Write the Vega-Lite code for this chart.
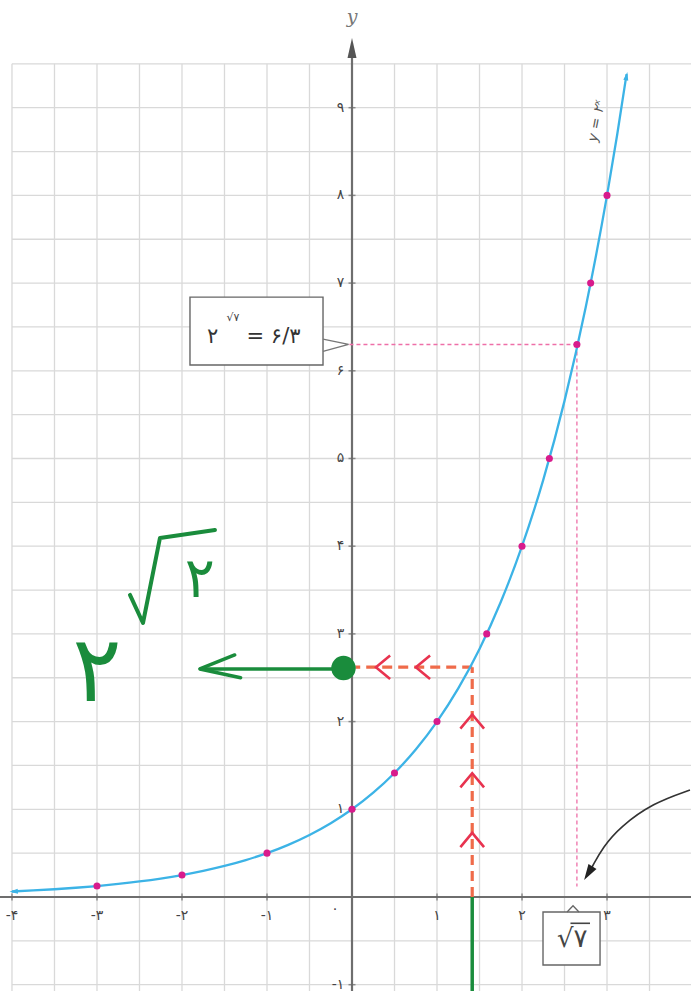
{
  "$schema": "https://vega.github.io/schema/vega-lite/v6.json",
  "width": 691,
  "height": 991,
  "padding": 0,
  "autosize": {"type": "none"},
  "background": "white",
  "config": {"view": {"stroke": null}, "text": {"font": "DejaVu Sans"}},
  "datasets": {
    "gridV": [
      {"gx": -4}, {"gx": -3.5}, {"gx": -3}, {"gx": -2.5}, {"gx": -2}, {"gx": -1.5}, {"gx": -1}, {"gx": -0.5},
      {"gx": 0.5}, {"gx": 1}, {"gx": 1.5}, {"gx": 2}, {"gx": 2.5}, {"gx": 3}, {"gx": 3.5}
    ],
    "gridH": [
      {"gy": -1}, {"gy": -0.5}, {"gy": 0.5}, {"gy": 1}, {"gy": 1.5}, {"gy": 2}, {"gy": 2.5}, {"gy": 3},
      {"gy": 3.5}, {"gy": 4}, {"gy": 4.5}, {"gy": 5}, {"gy": 5.5}, {"gy": 6}, {"gy": 6.5}, {"gy": 7},
      {"gy": 7.5}, {"gy": 8}, {"gy": 8.5}, {"gy": 9}, {"gy": 9.5}
    ],
    "xTicks": [{"v": -4}, {"v": -3}, {"v": -2}, {"v": -1}, {"v": 1}, {"v": 2}, {"v": 3}],
    "yTicks": [{"v": -1}, {"v": 1}, {"v": 2}, {"v": 3}, {"v": 4}, {"v": 5}, {"v": 6}, {"v": 7}, {"v": 8}, {"v": 9}],
    "xLabels": [
      {"lx": -4, "ly": -0.22, "t": "-۴"},
      {"lx": -3, "ly": -0.22, "t": "-۳"},
      {"lx": -2, "ly": -0.22, "t": "-۲"},
      {"lx": -1, "ly": -0.22, "t": "-۱"},
      {"lx": -0.2, "ly": -0.14, "t": "۰"},
      {"lx": 1, "ly": -0.22, "t": "۱"},
      {"lx": 2, "ly": -0.22, "t": "۲"},
      {"lx": 3, "ly": -0.22, "t": "۳"}
    ],
    "yLabels": [
      {"lx": -0.09, "ly": -1, "t": "-۱"},
      {"lx": -0.09, "ly": 1, "t": "۱"},
      {"lx": -0.09, "ly": 2, "t": "۲"},
      {"lx": -0.09, "ly": 3, "t": "۳"},
      {"lx": -0.09, "ly": 4, "t": "۴"},
      {"lx": -0.09, "ly": 5, "t": "۵"},
      {"lx": -0.09, "ly": 6, "t": "۶"},
      {"lx": -0.09, "ly": 7, "t": "۷"},
      {"lx": -0.09, "ly": 8, "t": "۸"},
      {"lx": -0.09, "ly": 9, "t": "۹"}
    ],
    "curve": [
      {"cx": -4, "cy": 0.0625}, {"cx": -3.75, "cy": 0.0743}, {"cx": -3.5, "cy": 0.0884}, {"cx": -3.25, "cy": 0.1051},
      {"cx": -3, "cy": 0.125}, {"cx": -2.75, "cy": 0.1487}, {"cx": -2.5, "cy": 0.1768}, {"cx": -2.25, "cy": 0.2102},
      {"cx": -2, "cy": 0.25}, {"cx": -1.75, "cy": 0.2973}, {"cx": -1.5, "cy": 0.3536}, {"cx": -1.25, "cy": 0.4204},
      {"cx": -1, "cy": 0.5}, {"cx": -0.75, "cy": 0.5946}, {"cx": -0.5, "cy": 0.7071}, {"cx": -0.25, "cy": 0.8409},
      {"cx": 0, "cy": 1}, {"cx": 0.25, "cy": 1.1892}, {"cx": 0.5, "cy": 1.4142}, {"cx": 0.75, "cy": 1.6818},
      {"cx": 1, "cy": 2}, {"cx": 1.25, "cy": 2.3784}, {"cx": 1.5, "cy": 2.8284}, {"cx": 1.75, "cy": 3.3636},
      {"cx": 2, "cy": 4}, {"cx": 2.25, "cy": 4.7568}, {"cx": 2.5, "cy": 5.6569}, {"cx": 2.75, "cy": 6.7272},
      {"cx": 3, "cy": 8}, {"cx": 3.12, "cy": 8.6939}, {"cx": 3.23, "cy": 9.3828}
    ],
    "dots": [
      {"px": -3, "py": 0.125}, {"px": -2, "py": 0.25}, {"px": -1, "py": 0.5}, {"px": 0, "py": 1},
      {"px": 0.5, "py": 1.4142}, {"px": 1, "py": 2}, {"px": 1.585, "py": 3}, {"px": 2, "py": 4},
      {"px": 2.3219, "py": 5}, {"px": 2.6458, "py": 6.3}, {"px": 2.8074, "py": 7}, {"px": 3, "py": 8}
    ],
    "pinkGuides": [
      {"x1": -0.03, "x2": 2.6458, "y1": 6.3, "y2": 6.3},
      {"x1": 2.6458, "x2": 2.6458, "y1": 6.3, "y2": 0.12}
    ],
    "orangeGuides": [
      {"x1": 1.4142, "x2": 1.4142, "y1": 0, "y2": 2.62},
      {"x1": 1.4142, "x2": 0.04, "y1": 2.62, "y2": 2.62}
    ],
    "upChevrons": [{"cx": 1.4142, "cy": 2.0}, {"cx": 1.4142, "cy": 1.33}, {"cx": 1.4142, "cy": 0.65}],
    "leftChevrons": [{"cx": 0.365, "cy": 2.62}, {"cx": 0.835, "cy": 2.62}],
    "greenHead": [
      {"ax": -1.38, "ay": 2.76, "o": 1},
      {"ax": -1.79, "ay": 2.6, "o": 2},
      {"ax": -1.31, "ay": 2.5, "o": 3}
    ],
    "radical": [
      {"rx": -2.612, "ry": 3.444, "o": 1},
      {"rx": -2.459, "ry": 3.124, "o": 2},
      {"rx": -2.259, "ry": 4.094, "o": 3},
      {"rx": -1.612, "ry": 4.185, "o": 4}
    ],
    "bentArrow": [
      {"bx": 3.976, "by": 1.22, "o": 1},
      {"bx": 3.541, "by": 1.072, "o": 2},
      {"bx": 3.153, "by": 0.798, "o": 3},
      {"bx": 2.953, "by": 0.57, "o": 4},
      {"bx": 2.824, "by": 0.342, "o": 5}
    ],
    "calloutTail": [
      {"tx": -0.341, "ty": 6.36, "o": 1},
      {"tx": -0.04, "ty": 6.3, "o": 2},
      {"tx": -0.341, "ty": 6.22, "o": 3}
    ],
    "rootNotch": [
      {"nx": 2.53, "ny": -0.171, "o": 1},
      {"nx": 2.6, "ny": -0.1, "o": 2},
      {"nx": 2.67, "ny": -0.171, "o": 3}
    ]
  },
  "layer": [
    {
      "data": {"name": "gridV"},
      "mark": {"type": "rule", "color": "#d9d9d9", "strokeWidth": 1.3},
      "encoding": {
        "x": {"field": "gx", "type": "quantitative", "scale": {"domain": [-4.141, 3.988], "nice": false, "zero": false}, "axis": null},
        "y": {"datum": 9.5, "type": "quantitative", "scale": {"domain": [-1.072, 10.228], "nice": false, "zero": false}, "axis": null},
        "y2": {"datum": -1.2}
      }
    },
    {
      "data": {"name": "gridH"},
      "mark": {"type": "rule", "color": "#d9d9d9", "strokeWidth": 1.3},
      "encoding": {
        "y": {"field": "gy", "type": "quantitative", "scale": {"domain": [-1.072, 10.228], "nice": false, "zero": false}, "axis": null},
        "x": {"datum": -4, "type": "quantitative", "scale": {"domain": [-4.141, 3.988], "nice": false, "zero": false}, "axis": null},
        "x2": {"datum": 4.2}
      }
    },
    {
      "data": {"values": [{}]},
      "mark": {"type": "rule", "color": "#6e6e6e", "strokeWidth": 2.2},
      "encoding": {
        "x": {"datum": -4.2, "type": "quantitative", "scale": {"domain": [-4.141, 3.988], "nice": false, "zero": false}, "axis": null},
        "x2": {"datum": 4.2},
        "y": {"datum": 0, "type": "quantitative", "scale": {"domain": [-1.072, 10.228], "nice": false, "zero": false}, "axis": null}
      }
    },
    {
      "data": {"values": [{}]},
      "mark": {"type": "rule", "color": "#6e6e6e", "strokeWidth": 2.2},
      "encoding": {
        "x": {"datum": 0, "type": "quantitative", "scale": {"domain": [-4.141, 3.988], "nice": false, "zero": false}, "axis": null},
        "y": {"datum": -1.2, "type": "quantitative", "scale": {"domain": [-1.072, 10.228], "nice": false, "zero": false}, "axis": null},
        "y2": {"datum": 9.7}
      }
    },
    {
      "data": {"values": [{}]},
      "mark": {"type": "point", "shape": "M0,-1L0.45,1L-0.45,1Z", "filled": true, "color": "#555555", "size": 400, "opacity": 1},
      "encoding": {
        "x": {"datum": 0, "type": "quantitative", "scale": {"domain": [-4.141, 3.988], "nice": false, "zero": false}, "axis": null},
        "y": {"datum": 9.68, "type": "quantitative", "scale": {"domain": [-1.072, 10.228], "nice": false, "zero": false}, "axis": null}
      }
    },
    {
      "data": {"values": [{"t": "y"}]},
      "mark": {"type": "text", "font": "DejaVu Serif", "fontStyle": "italic", "fontSize": 19, "color": "#777777", "align": "center", "baseline": "middle"},
      "encoding": {
        "x": {"datum": 0, "type": "quantitative", "scale": {"domain": [-4.141, 3.988], "nice": false, "zero": false}, "axis": null},
        "y": {"datum": 10.03, "type": "quantitative", "scale": {"domain": [-1.072, 10.228], "nice": false, "zero": false}, "axis": null},
        "text": {"field": "t"}
      }
    },
    {
      "data": {"name": "xTicks"},
      "mark": {"type": "tick", "orient": "vertical", "color": "#666666", "size": 7, "thickness": 1.5},
      "encoding": {
        "x": {"field": "v", "type": "quantitative", "scale": {"domain": [-4.141, 3.988], "nice": false, "zero": false}, "axis": null},
        "y": {"datum": 0, "type": "quantitative", "scale": {"domain": [-1.072, 10.228], "nice": false, "zero": false}, "axis": null}
      }
    },
    {
      "data": {"name": "yTicks"},
      "mark": {"type": "tick", "orient": "horizontal", "color": "#666666", "size": 7, "thickness": 1.5},
      "encoding": {
        "y": {"field": "v", "type": "quantitative", "scale": {"domain": [-1.072, 10.228], "nice": false, "zero": false}, "axis": null},
        "x": {"datum": 0, "type": "quantitative", "scale": {"domain": [-4.141, 3.988], "nice": false, "zero": false}, "axis": null}
      }
    },
    {
      "data": {"name": "xLabels"},
      "mark": {"type": "text", "fontSize": 14, "color": "#444444", "align": "center", "baseline": "middle"},
      "encoding": {
        "x": {"field": "lx", "type": "quantitative", "scale": {"domain": [-4.141, 3.988], "nice": false, "zero": false}, "axis": null},
        "y": {"field": "ly", "type": "quantitative", "scale": {"domain": [-1.072, 10.228], "nice": false, "zero": false}, "axis": null},
        "text": {"field": "t"}
      }
    },
    {
      "data": {"name": "yLabels"},
      "mark": {"type": "text", "fontSize": 14, "color": "#444444", "align": "right", "baseline": "middle"},
      "encoding": {
        "x": {"field": "lx", "type": "quantitative", "scale": {"domain": [-4.141, 3.988], "nice": false, "zero": false}, "axis": null},
        "y": {"field": "ly", "type": "quantitative", "scale": {"domain": [-1.072, 10.228], "nice": false, "zero": false}, "axis": null},
        "text": {"field": "t"}
      }
    },
    {
      "data": {"name": "pinkGuides"},
      "mark": {"type": "rule", "color": "#ee6fa8", "strokeWidth": 1.3, "strokeDash": [4, 3]},
      "encoding": {
        "x": {"field": "x1", "type": "quantitative", "scale": {"domain": [-4.141, 3.988], "nice": false, "zero": false}, "axis": null},
        "x2": {"field": "x2"},
        "y": {"field": "y1", "type": "quantitative", "scale": {"domain": [-1.072, 10.228], "nice": false, "zero": false}, "axis": null},
        "y2": {"field": "y2"}
      }
    },
    {
      "data": {"values": [{}]},
      "mark": {"type": "rule", "color": "#1a8c3c", "strokeWidth": 3.5},
      "encoding": {
        "x": {"datum": 1.4142, "type": "quantitative", "scale": {"domain": [-4.141, 3.988], "nice": false, "zero": false}, "axis": null},
        "y": {"datum": 0, "type": "quantitative", "scale": {"domain": [-1.072, 10.228], "nice": false, "zero": false}, "axis": null},
        "y2": {"datum": -1.2}
      }
    },
    {
      "data": {"name": "orangeGuides"},
      "mark": {"type": "rule", "color": "#ef6b4a", "strokeWidth": 3.2, "strokeDash": [10, 6]},
      "encoding": {
        "x": {"field": "x1", "type": "quantitative", "scale": {"domain": [-4.141, 3.988], "nice": false, "zero": false}, "axis": null},
        "x2": {"field": "x2"},
        "y": {"field": "y1", "type": "quantitative", "scale": {"domain": [-1.072, 10.228], "nice": false, "zero": false}, "axis": null},
        "y2": {"field": "y2"}
      }
    },
    {
      "data": {"name": "curve"},
      "mark": {"type": "line", "color": "#3cb3e6", "strokeWidth": 2.3, "interpolate": "monotone"},
      "encoding": {
        "x": {"field": "cx", "type": "quantitative", "scale": {"domain": [-4.141, 3.988], "nice": false, "zero": false}, "axis": null},
        "y": {"field": "cy", "type": "quantitative", "scale": {"domain": [-1.072, 10.228], "nice": false, "zero": false}, "axis": null}
      }
    },
    {
      "data": {"values": [{}]},
      "mark": {"type": "point", "shape": "M0,-1L0.6,1L-0.6,1Z", "filled": true, "color": "#3cb3e6", "size": 70, "opacity": 1, "angle": 11},
      "encoding": {
        "x": {"datum": 3.23, "type": "quantitative", "scale": {"domain": [-4.141, 3.988], "nice": false, "zero": false}, "axis": null},
        "y": {"datum": 9.36, "type": "quantitative", "scale": {"domain": [-1.072, 10.228], "nice": false, "zero": false}, "axis": null}
      }
    },
    {
      "data": {"values": [{}]},
      "mark": {"type": "point", "shape": "M-1,0L1,-0.6L1,0.6Z", "filled": true, "color": "#3cb3e6", "size": 70, "opacity": 1, "angle": -4},
      "encoding": {
        "x": {"datum": -3.98, "type": "quantitative", "scale": {"domain": [-4.141, 3.988], "nice": false, "zero": false}, "axis": null},
        "y": {"datum": 0.0625, "type": "quantitative", "scale": {"domain": [-1.072, 10.228], "nice": false, "zero": false}, "axis": null}
      }
    },
    {
      "data": {"name": "dots"},
      "mark": {"type": "point", "shape": "circle", "filled": true, "color": "#d81b8c", "size": 50, "opacity": 1},
      "encoding": {
        "x": {"field": "px", "type": "quantitative", "scale": {"domain": [-4.141, 3.988], "nice": false, "zero": false}, "axis": null},
        "y": {"field": "py", "type": "quantitative", "scale": {"domain": [-1.072, 10.228], "nice": false, "zero": false}, "axis": null}
      }
    },
    {
      "data": {"name": "upChevrons"},
      "mark": {"type": "point", "shape": "M-1,0.6L0,-0.6L1,0.6", "filled": false, "color": "#e8334f", "strokeWidth": 2.6, "size": 560, "opacity": 1},
      "encoding": {
        "x": {"field": "cx", "type": "quantitative", "scale": {"domain": [-4.141, 3.988], "nice": false, "zero": false}, "axis": null},
        "y": {"field": "cy", "type": "quantitative", "scale": {"domain": [-1.072, 10.228], "nice": false, "zero": false}, "axis": null}
      }
    },
    {
      "data": {"name": "leftChevrons"},
      "mark": {"type": "point", "shape": "M-1,0.6L0,-0.6L1,0.6", "filled": false, "color": "#e8334f", "strokeWidth": 2.6, "size": 560, "opacity": 1, "angle": -90},
      "encoding": {
        "x": {"field": "cx", "type": "quantitative", "scale": {"domain": [-4.141, 3.988], "nice": false, "zero": false}, "axis": null},
        "y": {"field": "cy", "type": "quantitative", "scale": {"domain": [-1.072, 10.228], "nice": false, "zero": false}, "axis": null}
      }
    },
    {
      "data": {"values": [{}]},
      "mark": {"type": "rule", "color": "#1a8c3c", "strokeWidth": 3.5},
      "encoding": {
        "x": {"datum": -0.1, "type": "quantitative", "scale": {"domain": [-4.141, 3.988], "nice": false, "zero": false}, "axis": null},
        "x2": {"datum": -1.79},
        "y": {"datum": 2.6, "type": "quantitative", "scale": {"domain": [-1.072, 10.228], "nice": false, "zero": false}, "axis": null}
      }
    },
    {
      "data": {"name": "greenHead"},
      "mark": {"type": "line", "color": "#1a8c3c", "strokeWidth": 3.5, "strokeCap": "round", "strokeJoin": "round"},
      "encoding": {
        "x": {"field": "ax", "type": "quantitative", "scale": {"domain": [-4.141, 3.988], "nice": false, "zero": false}, "axis": null},
        "y": {"field": "ay", "type": "quantitative", "scale": {"domain": [-1.072, 10.228], "nice": false, "zero": false}, "axis": null},
        "order": {"field": "o"}
      }
    },
    {
      "data": {"values": [{}]},
      "mark": {"type": "point", "shape": "circle", "filled": true, "color": "#1a8c3c", "size": 600, "opacity": 1},
      "encoding": {
        "x": {"datum": -0.1, "type": "quantitative", "scale": {"domain": [-4.141, 3.988], "nice": false, "zero": false}, "axis": null},
        "y": {"datum": 2.61, "type": "quantitative", "scale": {"domain": [-1.072, 10.228], "nice": false, "zero": false}, "axis": null}
      }
    },
    {
      "data": {"name": "radical"},
      "mark": {"type": "line", "color": "#1a8c3c", "strokeWidth": 4, "strokeCap": "round", "strokeJoin": "round"},
      "encoding": {
        "x": {"field": "rx", "type": "quantitative", "scale": {"domain": [-4.141, 3.988], "nice": false, "zero": false}, "axis": null},
        "y": {"field": "ry", "type": "quantitative", "scale": {"domain": [-1.072, 10.228], "nice": false, "zero": false}, "axis": null},
        "order": {"field": "o"}
      }
    },
    {
      "data": {"values": [{"t": "۲", "hx": -3.0, "hy": 2.55}]},
      "mark": {"type": "text", "fontSize": 92, "color": "#1a8c3c", "align": "center", "baseline": "middle"},
      "encoding": {
        "x": {"field": "hx", "type": "quantitative", "scale": {"domain": [-4.141, 3.988], "nice": false, "zero": false}, "axis": null},
        "y": {"field": "hy", "type": "quantitative", "scale": {"domain": [-1.072, 10.228], "nice": false, "zero": false}, "axis": null},
        "text": {"field": "t"}
      }
    },
    {
      "data": {"values": [{"t": "۲", "hx": -1.79, "hy": 3.62}]},
      "mark": {"type": "text", "fontSize": 56, "color": "#1a8c3c", "align": "center", "baseline": "middle"},
      "encoding": {
        "x": {"field": "hx", "type": "quantitative", "scale": {"domain": [-4.141, 3.988], "nice": false, "zero": false}, "axis": null},
        "y": {"field": "hy", "type": "quantitative", "scale": {"domain": [-1.072, 10.228], "nice": false, "zero": false}, "axis": null},
        "text": {"field": "t"}
      }
    },
    {
      "data": {"values": [{}]},
      "mark": {"type": "rect", "fill": "#b5b5b5", "stroke": null, "xOffset": 3, "yOffset": 3},
      "encoding": {
        "x": {"datum": -1.906, "type": "quantitative", "scale": {"domain": [-4.141, 3.988], "nice": false, "zero": false}, "axis": null},
        "x2": {"datum": -0.341},
        "y": {"datum": 6.84, "type": "quantitative", "scale": {"domain": [-1.072, 10.228], "nice": false, "zero": false}, "axis": null},
        "y2": {"datum": 6.066}
      }
    },
    {
      "data": {"values": [{}]},
      "mark": {"type": "rect", "fill": "white", "stroke": "#666666", "strokeWidth": 1.4},
      "encoding": {
        "x": {"datum": -1.906, "type": "quantitative", "scale": {"domain": [-4.141, 3.988], "nice": false, "zero": false}, "axis": null},
        "x2": {"datum": -0.341},
        "y": {"datum": 6.84, "type": "quantitative", "scale": {"domain": [-1.072, 10.228], "nice": false, "zero": false}, "axis": null},
        "y2": {"datum": 6.066}
      }
    },
    {
      "data": {"name": "calloutTail"},
      "mark": {"type": "line", "color": "#777777", "strokeWidth": 1.3},
      "encoding": {
        "x": {"field": "tx", "type": "quantitative", "scale": {"domain": [-4.141, 3.988], "nice": false, "zero": false}, "axis": null},
        "y": {"field": "ty", "type": "quantitative", "scale": {"domain": [-1.072, 10.228], "nice": false, "zero": false}, "axis": null},
        "order": {"field": "o"}
      }
    },
    {
      "data": {"values": [{"t": "۲", "bx": -1.64, "by": 6.38}]},
      "mark": {"type": "text", "fontSize": 21, "color": "#333333", "align": "center", "baseline": "middle"},
      "encoding": {
        "x": {"field": "bx", "type": "quantitative", "scale": {"domain": [-4.141, 3.988], "nice": false, "zero": false}, "axis": null},
        "y": {"field": "by", "type": "quantitative", "scale": {"domain": [-1.072, 10.228], "nice": false, "zero": false}, "axis": null},
        "text": {"field": "t"}
      }
    },
    {
      "data": {"values": [{"t": "= ۶/۳", "bx": -1.24, "by": 6.38}]},
      "mark": {"type": "text", "fontSize": 21, "color": "#333333", "align": "left", "baseline": "middle"},
      "encoding": {
        "x": {"field": "bx", "type": "quantitative", "scale": {"domain": [-4.141, 3.988], "nice": false, "zero": false}, "axis": null},
        "y": {"field": "by", "type": "quantitative", "scale": {"domain": [-1.072, 10.228], "nice": false, "zero": false}, "axis": null},
        "text": {"field": "t"}
      }
    },
    {
      "data": {"values": [{"t": "√۷", "bx": -1.4, "by": 6.6}]},
      "mark": {"type": "text", "fontSize": 11, "color": "#444444", "align": "center", "baseline": "middle"},
      "encoding": {
        "x": {"field": "bx", "type": "quantitative", "scale": {"domain": [-4.141, 3.988], "nice": false, "zero": false}, "axis": null},
        "y": {"field": "by", "type": "quantitative", "scale": {"domain": [-1.072, 10.228], "nice": false, "zero": false}, "axis": null},
        "text": {"field": "t"}
      }
    },
    {
      "data": {"values": [{}]},
      "mark": {"type": "rect", "fill": "white", "stroke": "#666666", "strokeWidth": 1.4},
      "encoding": {
        "x": {"datum": 2.247, "type": "quantitative", "scale": {"domain": [-4.141, 3.988], "nice": false, "zero": false}, "axis": null},
        "x2": {"datum": 2.918},
        "y": {"datum": -0.171, "type": "quantitative", "scale": {"domain": [-1.072, 10.228], "nice": false, "zero": false}, "axis": null},
        "y2": {"datum": -0.775}
      }
    },
    {
      "data": {"name": "rootNotch"},
      "mark": {"type": "line", "color": "#666666", "strokeWidth": 1.3},
      "encoding": {
        "x": {"field": "nx", "type": "quantitative", "scale": {"domain": [-4.141, 3.988], "nice": false, "zero": false}, "axis": null},
        "y": {"field": "ny", "type": "quantitative", "scale": {"domain": [-1.072, 10.228], "nice": false, "zero": false}, "axis": null},
        "order": {"field": "o"}
      }
    },
    {
      "data": {"values": [{"t": "√۷", "bx": 2.59, "by": -0.48}]},
      "mark": {"type": "text", "fontSize": 26, "color": "#444444", "align": "center", "baseline": "middle"},
      "encoding": {
        "x": {"field": "bx", "type": "quantitative", "scale": {"domain": [-4.141, 3.988], "nice": false, "zero": false}, "axis": null},
        "y": {"field": "by", "type": "quantitative", "scale": {"domain": [-1.072, 10.228], "nice": false, "zero": false}, "axis": null},
        "text": {"field": "t"}
      }
    },
    {
      "data": {"values": [{}]},
      "mark": {"type": "rule", "color": "#444444", "strokeWidth": 1.6},
      "encoding": {
        "x": {"datum": 2.57, "type": "quantitative", "scale": {"domain": [-4.141, 3.988], "nice": false, "zero": false}, "axis": null},
        "x2": {"datum": 2.8},
        "y": {"datum": -0.3, "type": "quantitative", "scale": {"domain": [-1.072, 10.228], "nice": false, "zero": false}, "axis": null}
      }
    },
    {
      "data": {"name": "bentArrow"},
      "mark": {"type": "line", "color": "#333333", "strokeWidth": 1.6, "interpolate": "basis"},
      "encoding": {
        "x": {"field": "bx", "type": "quantitative", "scale": {"domain": [-4.141, 3.988], "nice": false, "zero": false}, "axis": null},
        "y": {"field": "by", "type": "quantitative", "scale": {"domain": [-1.072, 10.228], "nice": false, "zero": false}, "axis": null},
        "order": {"field": "o"}
      }
    },
    {
      "data": {"values": [{}]},
      "mark": {"type": "point", "shape": "M0,1L-0.6,-1L0.6,-1Z", "filled": true, "color": "#222222", "size": 250, "opacity": 1, "angle": 32},
      "encoding": {
        "x": {"datum": 2.78, "type": "quantitative", "scale": {"domain": [-4.141, 3.988], "nice": false, "zero": false}, "axis": null},
        "y": {"datum": 0.27, "type": "quantitative", "scale": {"domain": [-1.072, 10.228], "nice": false, "zero": false}, "axis": null}
      }
    },
    {
      "data": {"values": [{"t": "y = ۲ˣ", "bx": 2.88, "by": 8.85}]},
      "mark": {"type": "text", "fontSize": 14, "fontStyle": "italic", "color": "#555555", "align": "center", "baseline": "middle", "angle": -79},
      "encoding": {
        "x": {"field": "bx", "type": "quantitative", "scale": {"domain": [-4.141, 3.988], "nice": false, "zero": false}, "axis": null},
        "y": {"field": "by", "type": "quantitative", "scale": {"domain": [-1.072, 10.228], "nice": false, "zero": false}, "axis": null},
        "text": {"field": "t"}
      }
    }
  ]
}
